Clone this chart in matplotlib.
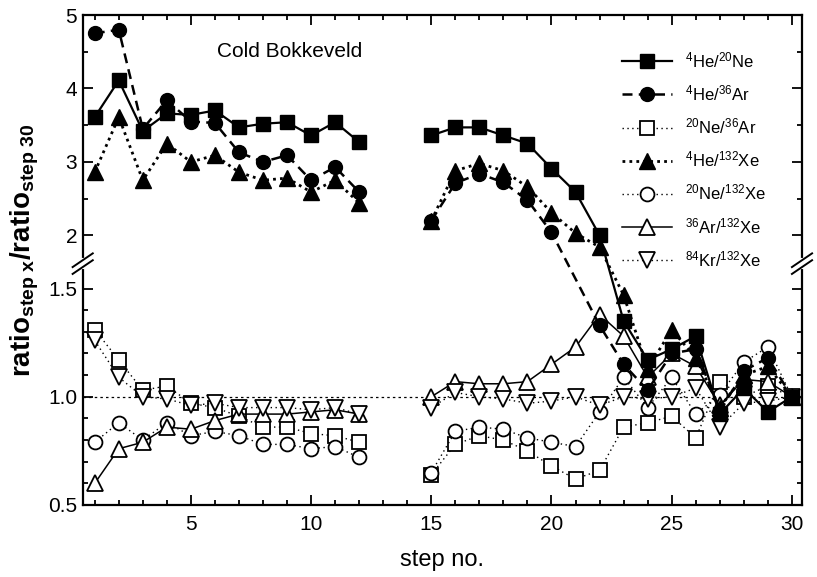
import numpy as np
import matplotlib.pyplot as plt
from matplotlib.ticker import FixedLocator, FixedFormatter, NullFormatter, MultipleLocator

plt.rcParams['font.family'] = ['Liberation Sans', 'DejaVu Sans']
plt.rcParams['mathtext.fontset'] = 'custom'
plt.rcParams['mathtext.rm'] = 'Liberation Sans'
plt.rcParams['mathtext.it'] = 'Liberation Sans:italic'
plt.rcParams['mathtext.bf'] = 'Liberation Sans:bold'

# step numbers of the two measured runs (13 and 14 missing)
steps_a = list(range(1, 13))
steps_b = list(range(15, 31))

# ratios normalised to step 30
he4_ne20_a = [3.61, 4.11, 3.42, 3.66, 3.64, 3.70, 3.47, 3.52, 3.54, 3.36, 3.54, 3.27]
he4_ne20_b = [3.36, 3.47, 3.47, 3.36, 3.25, 2.91, 2.59, 2.00, 1.35, 1.17, 1.22, 1.28, 0.92, 1.04, 0.93, 1.00]

he4_ar36_a = [4.75, 4.80, 3.45, 3.84, 3.55, 3.53, 3.13, 3.00, 3.09, 2.75, 2.93, 2.59]
he4_ar36_b = [2.20, 2.71, 2.84, 2.72, 2.48, 2.04, None, 1.33, 1.15, 1.03, 1.20, 1.22, 0.93, 1.12, 1.18, 1.00]

ne20_ar36_a = [1.31, 1.17, 1.03, 1.05, 0.97, 0.95, 0.91, 0.86, 0.86, 0.83, 0.82, 0.79]
ne20_ar36_b = [0.64, 0.78, 0.82, 0.80, 0.75, 0.68, 0.62, 0.66, 0.86, 0.88, 0.91, 0.81, 1.07, 1.00, 1.05, 1.00]

he4_xe132_a = [2.86, 3.61, 2.75, 3.25, 3.00, 3.09, 2.86, 2.75, 2.78, 2.59, 2.75, 2.44]
he4_xe132_b = [2.20, 2.88, 2.98, 2.88, 2.66, 2.31, 2.03, 1.84, 1.47, 1.13, 1.31, 1.18, 0.95, 1.10, 1.14, 1.00]

ne20_xe132_a = [0.79, 0.88, 0.80, 0.88, 0.82, 0.84, 0.82, 0.78, 0.78, 0.76, 0.77, 0.72]
ne20_xe132_b = [0.65, 0.84, 0.86, 0.85, 0.81, 0.79, 0.77, 0.93, 1.09, 0.95, 1.09, 0.92, 1.01, 1.16, 1.23, 1.00]

ar36_xe132_a = [0.60, 0.76, 0.79, 0.86, 0.85, 0.89, 0.92, 0.92, 0.92, 0.93, 0.94, 0.92]
ar36_xe132_b = [1.00, 1.07, 1.06, 1.06, 1.07, 1.15, 1.23, 1.38, 1.28, 1.09, 1.20, 1.14, 0.96, 1.08, 1.07, 1.00]

kr84_xe132_a = [1.26, 1.09, 1.00, 0.99, 0.96, 0.97, 0.95, 0.95, 0.95, 0.94, 0.95, 0.92]
kr84_xe132_b = [0.95, 1.02, 1.00, 0.99, 0.97, 0.98, 1.00, 0.96, 1.00, 0.99, 1.00, 1.04, 0.86, 0.97, 0.98, 1.00]

ytick_major = [0.5, 1.0, 1.5, 2, 3, 4, 5]
ytick_labels = ['0.5', '1.0', '1.5', '2', '3', '4', '5']
ytick_minor = [0.6, 0.7, 0.8, 0.9, 1.1, 1.2, 1.3, 1.4, 2.5, 3.5, 4.5]

# broken y axis: 0.5-1.6 stretched, 1.6-5 compressed
LO_TOP = 1.615
LO_K = 216.0
HI_K = 73.3
S0 = (LO_TOP - 0.5) * LO_K


def fwd(v):
    v = np.asarray(v, dtype=float)
    return np.where(v <= LO_TOP, (v - 0.5) * LO_K, S0 + (v - LO_TOP) * HI_K)


def inv(s):
    s = np.asarray(s, dtype=float)
    return np.where(s <= S0, 0.5 + s / LO_K, LO_TOP + (s - S0) / HI_K)


fig = plt.figure(figsize=(8.17, 5.77), dpi=100)
ax = fig.add_axes([82.7 / 817, 1 - 505 / 577, (802 - 82.7) / 817, (505 - 15) / 577])
ax.set_yscale('function', functions=(fwd, inv))
ax.set_xlim(0.5, 30.42)
ax.set_ylim(0.5, 5)


def draw(vals_a, vals_b, label, **style):
    for k, (steps, vals) in enumerate(((steps_a, vals_a), (steps_b, vals_b))):
        pts = [(s, v) for s, v in zip(steps, vals) if v is not None]
        xs = [p[0] for p in pts]
        ys = [p[1] for p in pts]
        ax.plot(xs, ys, label=label if k == 0 else None, **style)


thin_dot = (0, (1, 2.5))
filled = dict(color='black', mfc='black', mec='black')
hollow = dict(color='black', mfc='white', mec='black', mew=1.3)

draw(he4_ne20_a, he4_ne20_b, r'$^{4}$He/$^{20}$Ne',
     ls='-', lw=1.6, marker='s', ms=10, zorder=6, **filled)
draw(he4_ar36_a, he4_ar36_b, r'$^{4}$He/$^{36}$Ar',
     ls=(0, (4, 2.5)), lw=1.8, marker='o', ms=10, zorder=5, **filled)
draw(ne20_ar36_a, ne20_ar36_b, r'$^{20}$Ne/$^{36}$Ar',
     ls=thin_dot, lw=1.0, marker='s', ms=9.5, zorder=3, **hollow)
draw(he4_xe132_a, he4_xe132_b, r'$^{4}$He/$^{132}$Xe',
     ls=(0, (1, 1.5)), lw=2.0, marker='^', ms=11, zorder=4, **filled)
draw(ne20_xe132_a, ne20_xe132_b, r'$^{20}$Ne/$^{132}$Xe',
     ls=thin_dot, lw=1.0, marker='o', ms=10, zorder=3, **hollow)
draw(ar36_xe132_a, ar36_xe132_b, r'$^{36}$Ar/$^{132}$Xe',
     ls='-', lw=1.1, marker='^', ms=11, zorder=3, **hollow)
draw(kr84_xe132_a, kr84_xe132_b, r'$^{84}$Kr/$^{132}$Xe',
     ls=thin_dot, lw=1.0, marker='v', ms=11, zorder=3, **hollow)

ax.axhline(1.0, color='black', lw=0.9, ls=(0, (2, 2.5)), zorder=1)

# ticks
ax.xaxis.set_major_locator(MultipleLocator(5))
ax.xaxis.set_minor_locator(MultipleLocator(1))
ax.yaxis.set_major_locator(FixedLocator(ytick_major))
ax.yaxis.set_major_formatter(FixedFormatter(ytick_labels))
ax.yaxis.set_minor_locator(FixedLocator(ytick_minor))
ax.yaxis.set_minor_formatter(NullFormatter())
ax.tick_params(which='both', direction='in', top=True, right=True, width=1.3)
ax.tick_params(which='major', length=7, labelsize=15)
ax.tick_params(which='minor', length=3.5)
ax.tick_params(axis='x', which='major', pad=7)
ax.tick_params(axis='y', which='major', pad=4)
for sp in ax.spines.values():
    sp.set_linewidth(1.6)

# break marks on both vertical spines
yb = S0 / float(fwd(5))
for x0 in (0, 1):
    ax.plot([x0, x0], [yb - 0.007, yb + 0.007], transform=ax.transAxes,
            color='white', lw=3, clip_on=False, zorder=20)
    for dy in (-0.007, 0.007):
        ax.plot([x0 - 0.014, x0 + 0.014], [yb + dy - 0.014, yb + dy + 0.014],
                transform=ax.transAxes, color='black', lw=1.4,
                clip_on=False, zorder=21)

ax.text(0.1867, 0.9245, 'Cold Bokkeveld', transform=ax.transAxes,
        ha='left', va='center', fontsize=15)

leg = ax.legend(loc='upper left', bbox_to_anchor=((622 - 82.7) / 719.3, (505 - 50) / 490),
                frameon=False, fontsize=12, numpoints=1, handlelength=3.0,
                handletextpad=0.8, labelspacing=0.8, borderpad=0, borderaxespad=0)

fig.text(25 / 817, 1 - 250 / 577,
         r'$\mathbf{ratio_{step\ x}/ratio_{step\ 30}}$',
         rotation=90, ha='center', va='center', fontsize=20)
fig.text(442 / 817, 1 - 560 / 577, 'step no.', ha='center', va='center', fontsize=17)

fig.savefig('out.png', dpi=100)
plt.close(fig)
